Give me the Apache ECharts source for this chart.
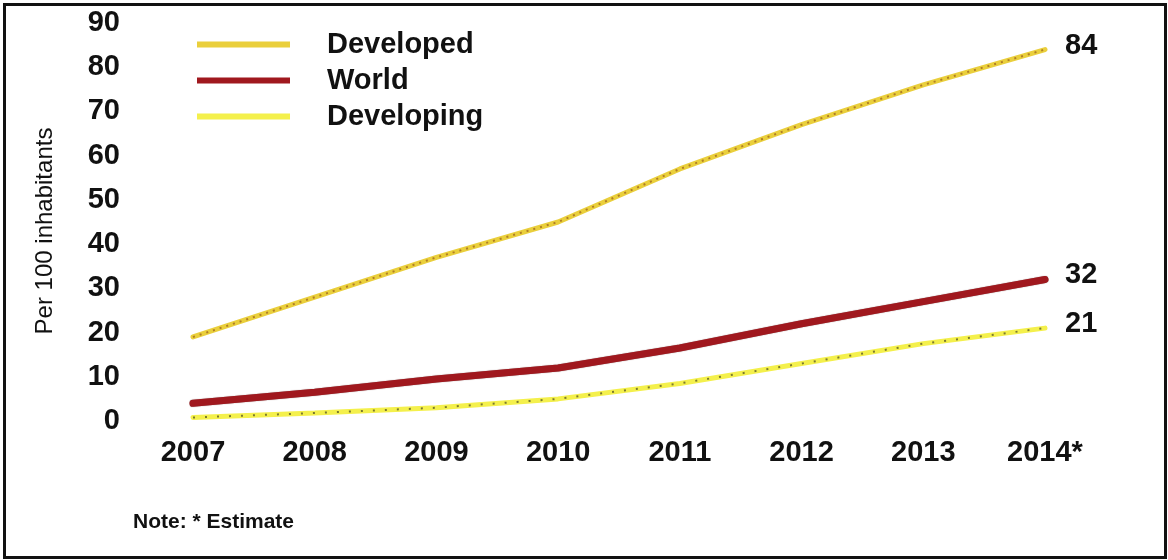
<!DOCTYPE html>
<html>
<head>
<meta charset="utf-8">
<script src="https://cdn.jsdelivr.net/npm/echarts@6/dist/echarts.min.js"></script>
<style>
  html, body { margin: 0; padding: 0; background: #fff; }
  #frame {
    position: absolute; left: 3px; top: 3px; width: 1158px; height: 550px;
    border: 3px solid #111; box-sizing: content-box;
  }
  #chart { position: absolute; left: 0; top: 0; width: 1168px; height: 560px; }
</style>
</head>
<body>
<div id="frame"></div>
<div id="chart"></div>
<script>
// Mobile-broadband subscriptions per 100 inhabitants
const years = ['2007', '2008', '2009', '2010', '2011', '2012', '2013', '2014*'];
const developed = [19, 28, 37, 45, 57, 67, 76, 84];
const world = [4, 6.5, 9.5, 12, 16.5, 22, 27, 32];
const developing = [0.8, 1.8, 3, 5, 8.5, 13, 17.5, 21];
const yTicks = [0, 10, 20, 30, 40, 50, 60, 70, 80, 90];

const FONT = '"Liberation Sans", Arial, Helvetica, sans-serif';
const chart = echarts.init(document.getElementById('chart'), null, { renderer: 'canvas' });

// value printed after the last point of a line
const lastValueLabel = {
  show: true,
  formatter: p => String(Math.round(p.value)),
  distance: 20,
  offset: [0, -4],
  color: '#111',
  fontFamily: FONT,
  fontWeight: 'bold',
  fontSize: 29
};

// speckled texture laid over the light lines
function texture(name, data, color, dash) {
  return {
    name: name + ' texture',
    type: 'line',
    data: data,
    symbol: 'none',
    silent: true,
    z: 3,
    lineStyle: { color: color, width: 2, type: dash, opacity: 0.6 }
  };
}

chart.setOption({
  animation: false,
  backgroundColor: 'transparent',
  grid: { left: 193, right: 123, top: 23, bottom: 139 },
  legend: {
    data: ['Developed', 'World', 'Developing'],
    orient: 'vertical',
    left: 192,
    top: 25,
    itemWidth: 93,
    itemHeight: 6,
    itemGap: 7,
    icon: 'rect',
    textStyle: {
      fontFamily: FONT, fontSize: 29, fontWeight: 'bold', color: '#111',
      padding: [0, 0, 0, 32]
    }
  },
  xAxis: {
    type: 'category',
    data: years,
    boundaryGap: false,
    axisLine: { show: false },
    axisTick: { show: false },
    splitLine: { show: false },
    axisLabel: {
      margin: 17, color: '#111', fontFamily: FONT, fontWeight: 'bold', fontSize: 29
    }
  },
  yAxis: {
    type: 'value',
    min: 0, max: 90, interval: 10,
    axisLine: { show: false },
    axisTick: { show: false },
    splitLine: { show: false },
    axisLabel: {
      margin: 73, color: '#111', fontFamily: FONT, fontWeight: 'bold', fontSize: 29,
      formatter: v => (yTicks.indexOf(v) >= 0 ? String(v) : '')
    }
  },
  series: [
    {
      name: 'Developed',
      type: 'line',
      data: developed,
      symbol: 'none',
      z: 2,
      itemStyle: { color: '#eacf3c' },
      lineStyle: { color: '#eacf3c', width: 5, cap: 'round' },
      endLabel: lastValueLabel
    },
    texture('Developed', developed, '#8a4a16', [2, 5]),
    {
      name: 'Developing',
      type: 'line',
      data: developing,
      symbol: 'none',
      z: 2,
      itemStyle: { color: '#f4f04c' },
      lineStyle: { color: '#f4f04c', width: 5, cap: 'round' },
      endLabel: lastValueLabel
    },
    texture('Developing', developing, '#2a2a1a', [2, 10]),
    {
      name: 'World',
      type: 'line',
      data: world,
      symbol: 'none',
      z: 4,
      itemStyle: { color: '#a0181e' },
      lineStyle: { color: '#a0181e', width: 7, cap: 'round', shadowColor: 'rgba(60,0,0,0.6)', shadowBlur: 1 },
      endLabel: lastValueLabel
    }
  ],
  graphic: [
    {
      type: 'text',
      x: 45,
      y: 231,
      rotation: Math.PI / 2,
      style: {
        text: 'Per 100 inhabitants',
        fill: '#111',
        fontFamily: FONT,
        fontSize: 24,
        align: 'center',
        verticalAlign: 'middle'
      }
    },
    {
      type: 'text',
      left: 133,
      top: 512,
      style: {
        text: 'Note: * Estimate',
        fill: '#111',
        fontFamily: FONT,
        fontWeight: 'bold',
        fontSize: 21
      }
    }
  ]
});
</script>
</body>
</html>
